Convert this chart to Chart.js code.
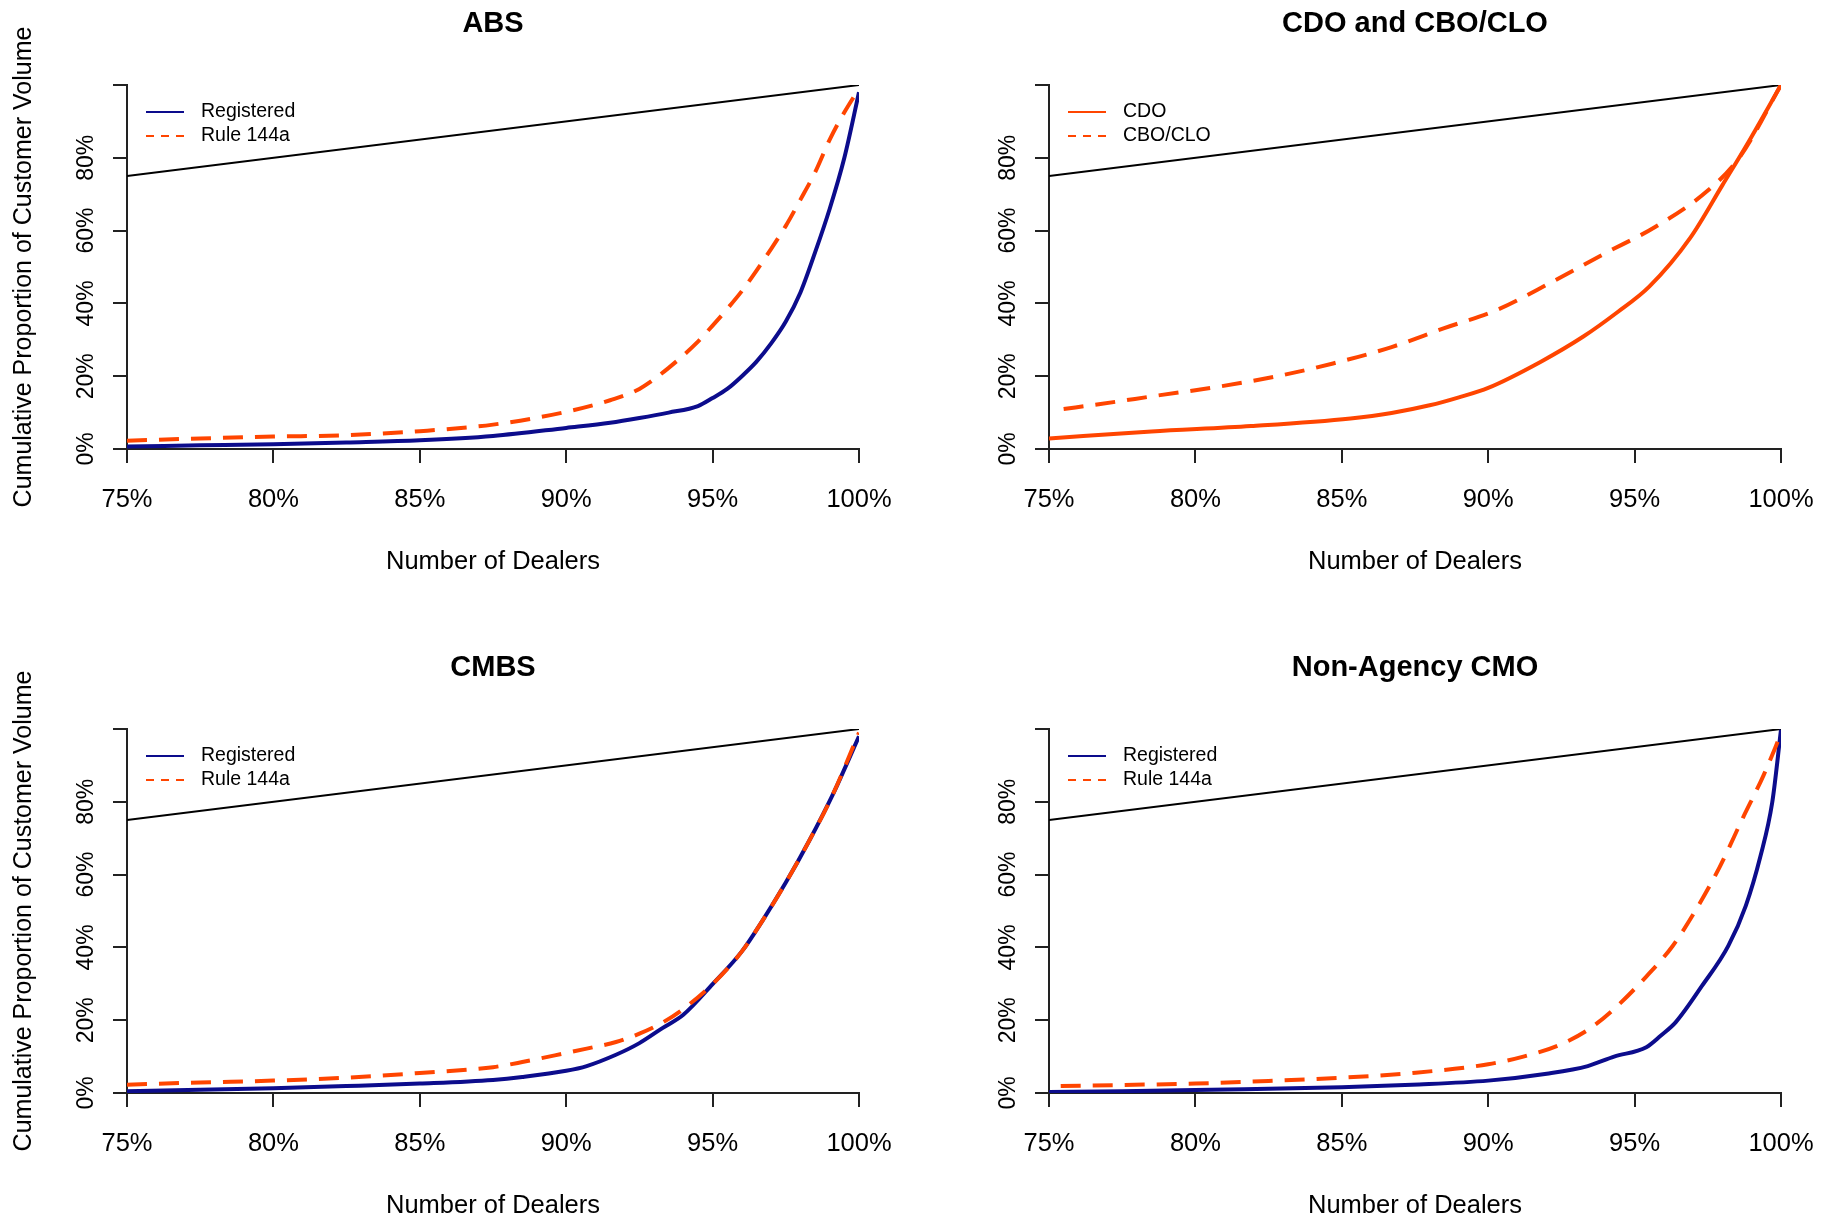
<!DOCTYPE html>
<html>
<head>
<meta charset="utf-8">
<script src="https://cdn.jsdelivr.net/npm/chart.js@4.4.1/dist/chart.umd.min.js"></script>
<style>
  html, body { margin: 0; padding: 0; background: #fff; overflow: hidden; }
  .panel { position: absolute; width: 914px; height: 580px; }
</style>
</head>
<body>
<div class="panel" style="left:0;top:0"><canvas id="abs" width="914" height="580"></canvas></div>
<div class="panel" style="left:922px;top:0"><canvas id="cdo" width="914" height="580"></canvas></div>
<div class="panel" style="left:0;top:644px"><canvas id="cmbs" width="914" height="580"></canvas></div>
<div class="panel" style="left:922px;top:644px"><canvas id="cmo" width="914" height="580"></canvas></div>
<script>
// axis ticks
const xTickLabels = ['75%', '80%', '85%', '90%', '95%', '100%'];
const yTickLabels = ['0%', '20%', '40%', '60%', '80%', ''];
const refX = [75, 100];
const refY = [75, 100];

// ABS
const absX = [75, 77.5, 80, 82.5, 85, 87.5, 90, 91.5, 92.5, 93.5, 94.5, 95, 95.5, 96, 96.5, 97, 97.5, 98, 98.5, 99, 99.5, 100];
const absRegistered = [0.7, 1.0, 1.3, 1.8, 2.4, 3.6, 5.8, 7.2, 8.5, 10, 11.8, 14, 16.5, 20, 24, 29, 35, 43, 54, 66, 80, 98];
const absRule144a = [2.3, 2.9, 3.4, 3.8, 4.9, 6.7, 10.2, 13.4, 16.5, 22.3, 29.5, 33.9, 38.5, 43.4, 49, 55, 61.3, 68.5, 76, 85, 92.5, 99];

// CDO and CBO/CLO
const cdoX = [75, 78.5, 81.9, 85.3, 86.7, 88, 89, 90, 91.8, 93.25, 94.4, 95.5, 96.9, 98, 98.9, 100];
const cdoValues = [2.9, 4.8, 6.3, 8.4, 9.9, 12, 14.2, 16.8, 24, 30.9, 37.5, 44.6, 58, 72.5, 84.5, 100];
const cboX = [75.5, 76.7, 78.8, 80.7, 82.8, 84.7, 86.7, 88.5, 90.3, 92.2, 94, 95.7, 97.5, 98.6, 100];
const cboValues = [11, 12.3, 14.8, 17, 20, 23.5, 28, 33.2, 38.2, 46, 53.8, 61, 71, 80.3, 100];

// CMBS
const cmbsX = [75, 77.5, 80, 82.5, 85, 87.5, 88.5, 90, 90.7, 91.7, 92.5, 93.3, 94, 95, 96, 96.7, 97.5, 98.3, 99.1, 100];
const cmbsRegistered = [0.5, 0.9, 1.3, 1.9, 2.6, 3.6, 4.4, 6.1, 7.4, 10.5, 13.7, 17.9, 21.5, 29.9, 38.9, 47.3, 57.8, 69.3, 81.9, 98];
const cmbsRule144a = [2.3, 2.9, 3.4, 4.2, 5.5, 7.1, 8.5, 11, 12.2, 14, 16.3, 19.4, 23.1, 29.9, 38.9, 47.3, 57.8, 69.3, 81.9, 99];

// Non-Agency CMO
const cmoRegX = [75, 77.5, 80, 82.5, 85, 87.4, 90, 92, 93.4, 94.3, 95.4, 95.9, 96.4, 97.3, 98.2, 98.8, 99.3, 99.7, 100];
const cmoRegistered = [0.3, 0.5, 0.8, 1.2, 1.6, 2.3, 3.4, 5.3, 7.4, 10, 12.6, 15.8, 19.4, 29.4, 40.4, 51.5, 65.1, 79.8, 99.8];
const cmoRuleX = [75.4, 77.5, 80, 82.5, 85, 87.4, 90, 91.2, 92.4, 93.4, 94.3, 95.4, 96.3, 97.1, 97.9, 98.7, 99.4, 100];
const cmoRule144a = [1.9, 2.2, 2.6, 3.3, 4.2, 5.5, 7.9, 10, 13.1, 17.3, 23.1, 32, 40.4, 50.4, 62, 75.6, 87.2, 98.7];

const FONT = "'Liberation Sans', Arial, sans-serif";
const BLUE = '#0c0c8c';
const ORANGE = '#ff4500';
Chart.defaults.font.family = FONT;
Chart.defaults.color = '#000';

function pts(xs, ys) {
  return xs.map((x, i) => ({ x: x, y: ys[i] }));
}

function refLine() {
  return { label: '', data: pts(refX, refY), borderColor: '#000', borderWidth: 2, order: 3, tension: 0 };
}

function series(label, xs, ys, color, dashed, order) {
  return {
    label: label,
    data: pts(xs, ys),
    borderColor: color,
    borderWidth: 4,
    borderDash: dashed ? [20, 12] : [],
    cubicInterpolationMode: 'monotone',
    order: order
  };
}

// R style legend in the top left corner of the plot
const rLegend = {
  id: 'rLegend',
  afterDatasetsDraw(chart) {
    const { ctx, chartArea } = chart;
    let y = chartArea.top + 27;
    chart.data.datasets.forEach(ds => {
      if (!ds.label) return;
      ctx.save();
      ctx.strokeStyle = ds.borderColor;
      ctx.lineWidth = 2;
      ctx.setLineDash(ds.borderDash.length ? [8, 7] : []);
      ctx.beginPath();
      ctx.moveTo(chartArea.left + 19, y);
      ctx.lineTo(chartArea.left + 57, y);
      ctx.stroke();
      ctx.setLineDash([]);
      ctx.fillStyle = '#000';
      ctx.font = '19.5px ' + FONT;
      ctx.textBaseline = 'middle';
      ctx.fillText(ds.label, chartArea.left + 74, y);
      ctx.restore();
      y += 24;
    });
  }
};

function makePanel(id, title, datasets, showYTitle) {
  new Chart(document.getElementById(id), {
    type: 'line',
    data: { datasets: datasets },
    plugins: [rLegend],
    options: {
      responsive: false,
      animation: false,
      devicePixelRatio: 1,
      layout: { padding: { left: 9, right: 55, top: 0, bottom: 3 } },
      elements: { point: { radius: 0 }, line: { borderCapStyle: 'butt', fill: false } },
      plugins: {
        legend: { display: false },
        tooltip: { enabled: false },
        title: {
          display: true,
          text: title,
          fullSize: false,
          color: '#000',
          font: { size: 29, weight: 'bold' },
          padding: { top: 6.6, bottom: 43.6 }
        }
      },
      scales: {
        x: {
          type: 'linear',
          min: 75,
          max: 100,
          afterFit: s => { s.height = 128; },
          ticks: {
            stepSize: 5,
            autoSkip: false,
            maxRotation: 0,
            padding: 22,
            color: '#000',
            font: { size: 25.5 },
            callback: (v, i) => xTickLabels[i]
          },
          grid: { drawOnChartArea: false, drawTicks: true, tickLength: 14, color: '#222', lineWidth: 2 },
          border: { display: true, color: '#222', width: 2 },
          title: { display: true, text: 'Number of Dealers', color: '#000', font: { size: 25.5 }, padding: 0 }
        },
        y: {
          type: 'linear',
          min: 0,
          max: 100,
          afterFit: s => { s.width = 118; },
          ticks: {
            stepSize: 20,
            autoSkip: false,
            minRotation: 90,
            maxRotation: 90,
            crossAlign: 'center',
            padding: 3.5,
            color: '#000',
            font: { size: 23 },
            callback: (v, i) => yTickLabels[i]
          },
          grid: { drawOnChartArea: false, drawTicks: true, tickLength: 14, color: '#222', lineWidth: 2 },
          border: { display: true, color: '#222', width: 2 },
          title: { display: showYTitle, text: 'Cumulative Proportion of Customer Volume', color: '#000', font: { size: 25 }, padding: 0 }
        }
      }
    }
  });
}

makePanel('abs', 'ABS', [
  refLine(),
  series('Registered', absX, absRegistered, BLUE, false, 2),
  series('Rule 144a', absX, absRule144a, ORANGE, true, 1)
], true);

makePanel('cdo', 'CDO and CBO/CLO', [
  refLine(),
  series('CDO', cdoX, cdoValues, ORANGE, false, 2),
  series('CBO/CLO', cboX, cboValues, ORANGE, true, 1)
], false);

makePanel('cmbs', 'CMBS', [
  refLine(),
  series('Registered', cmbsX, cmbsRegistered, BLUE, false, 2),
  series('Rule 144a', cmbsX, cmbsRule144a, ORANGE, true, 1)
], true);

makePanel('cmo', 'Non-Agency CMO', [
  refLine(),
  series('Registered', cmoRegX, cmoRegistered, BLUE, false, 2),
  series('Rule 144a', cmoRuleX, cmoRule144a, ORANGE, true, 1)
], false);
</script>
</body>
</html>
